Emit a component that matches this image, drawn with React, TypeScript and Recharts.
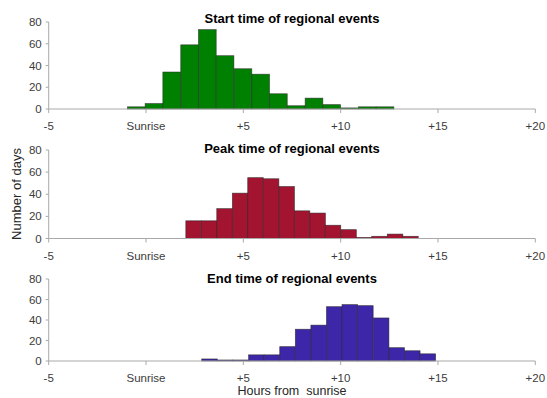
import React from 'react';
import { ComposedChart, Bar, XAxis, YAxis } from 'recharts';

// ---- tick labels ----
const xTicks = [-5, 0, 5, 10, 15, 20];
const xTickLabels = ['-5', 'Sunrise', '+5', '+10', '+15', '+20'];
const yTicks = [0, 20, 40, 60, 80];

// ---- Start time (bin centres in hours from sunrise, counts) ----
const startCenters = [-0.5, 0.41, 1.32, 2.24, 3.15, 4.06, 4.98, 5.89, 6.8, 7.72, 8.63, 9.54, 10.46, 11.37, 12.28];
const startCounts = [2, 5, 34, 59, 73, 49, 37, 32, 14, 3, 10, 4, 1, 2, 2];

// ---- Peak time ----
const peakCenters = [2.44, 3.24, 4.03, 4.83, 5.62, 6.42, 7.22, 8.01, 8.81, 9.6, 10.4, 11.2, 11.99, 12.79, 13.58];
const peakCounts = [16, 16, 27, 41, 55, 54, 47, 25, 23, 12, 8, 1, 2, 4, 2];

// ---- End time ----
const endCenters = [3.26, 4.06, 4.86, 5.67, 6.47, 7.27, 8.07, 8.87, 9.67, 10.47, 11.27, 12.08, 12.88, 13.68, 14.48];
const endCounts = [2, 1, 1, 6, 6, 14, 31, 35, 53, 55, 54, 42, 13, 10, 7];

const titles = ['Start time of regional events', 'Peak time of regional events', 'End time of regional events'];

const W = 547;
const H = 398;
const LEFT = 48.7;
const RIGHT = 11.7;
const PLOT_W = W - LEFT - RIGHT;
const FONT = '"Liberation Sans", Arial, Helvetica, sans-serif';
const AXIS = '#a9a9a9';
const TICK_TEXT = '#3c3c3c';

type PanelProps = {
  top: number;
  height: number;
  plotTop: number;
  baseline: number;
  centers: number[];
  counts: number[];
  color: string;
};

function Panel({ top, height, plotTop, baseline, centers, counts, color }: PanelProps) {
  const data = centers.map((x, i) => ({ x, count: counts[i] }));
  const span = xTicks[xTicks.length - 1] - xTicks[0];
  const binPx = ((centers[1] - centers[0]) * PLOT_W) / span;
  const shape = (props: any) => {
    const { x, y, width, height: h } = props;
    if (h == null || !(Math.abs(h) > 0)) return <g />;
    const c = x + width / 2;
    return (
      <rect
        x={c - binPx / 2}
        y={y}
        width={binPx}
        height={h}
        fill={color}
        stroke="#2a2a2a"
        strokeOpacity={0.75}
        strokeWidth={0.7}
      />
    );
  };
  return (
    <div style={{ position: 'absolute', left: 0, top, width: W, height }}>
      <ComposedChart
        width={W}
        height={height}
        data={data}
        margin={{ top: plotTop - top, right: RIGHT, bottom: 0, left: 0 }}
      >
        <XAxis
          type="number"
          dataKey="x"
          domain={[xTicks[0], xTicks[xTicks.length - 1]]}
          ticks={xTicks}
          interval={0}
          allowDataOverflow
          tickFormatter={(v: number) => xTickLabels[xTicks.indexOf(v)]}
          height={top + height - baseline}
          stroke={AXIS}
          tickSize={4}
          tickMargin={9}
          tick={{ fill: TICK_TEXT, fontSize: 11.5, fontFamily: FONT }}
        />
        <YAxis
          type="number"
          domain={[yTicks[0], yTicks[yTicks.length - 1]]}
          ticks={yTicks}
          interval={0}
          width={LEFT}
          stroke={AXIS}
          tickSize={3}
          tickMargin={4}
          tick={{ fill: TICK_TEXT, fontSize: 11.5, fontFamily: FONT }}
        />
        <Bar
          dataKey="count"
          fill={color}
          barSize={Math.max(1, binPx - 2)}
          shape={shape}
          isAnimationActive={false}
        />
      </ComposedChart>
    </div>
  );
}

export default function App() {
  const cx = LEFT + PLOT_W / 2;
  return (
    <div style={{ position: 'absolute', left: 0, top: 0, width: W, height: H, background: '#fff', fontFamily: FONT }}>
      <Panel top={0} height={135} plotTop={22} baseline={109} centers={startCenters} counts={startCounts} color="#008000" />
      <Panel top={130} height={135} plotTop={150} baseline={238.5} centers={peakCenters} counts={peakCounts} color="#A2142F" />
      <Panel top={259} height={139} plotTop={279} baseline={361} centers={endCenters} counts={endCounts} color="#3E26A8" />
      <svg width={W} height={H} style={{ position: 'absolute', left: 0, top: 0, pointerEvents: 'none' }}>
        <text x={cx} y={22.5} textAnchor="middle" fontFamily={FONT} fontWeight="bold" fontSize={13} fill="#000">{titles[0]}</text>
        <text x={cx} y={152.5} textAnchor="middle" fontFamily={FONT} fontWeight="bold" fontSize={13} fill="#000">{titles[1]}</text>
        <text x={cx} y={282.5} textAnchor="middle" fontFamily={FONT} fontWeight="bold" fontSize={13} fill="#000">{titles[2]}</text>
        <text
          x={0}
          y={0}
          transform="translate(20.5,194) rotate(-90)"
          textAnchor="middle"
          fontFamily={FONT}
          fontSize={13}
          fill="#262626"
        >
          Number of days
        </text>
        <text x={cx} y={395} textAnchor="middle" fontFamily={FONT} fontSize={12.5} fill="#262626" style={{ whiteSpace: 'pre' }}>
          {'Hours from  sunrise'}
        </text>
      </svg>
    </div>
  );
}
